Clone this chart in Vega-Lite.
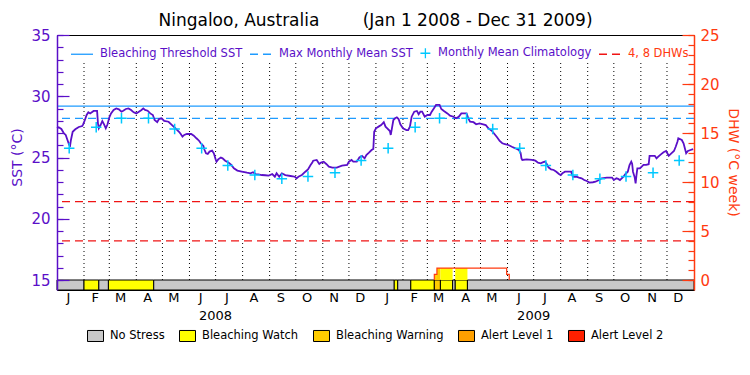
{
"$schema":"https://vega.github.io/schema/vega-lite/v6.json",
"width":637,"height":255,
"autosize":{"type":"none"},
"padding":{"left":57,"top":35,"right":56,"bottom":85},
"background":"white",
"title":{"text":"Ningaloo, Australia\u00a0\u00a0\u00a0\u00a0\u00a0\u00a0\u00a0\u00a0(Jan 1 2008 - Dec 31 2009)","font":"DejaVu Sans","fontSize":17,"fontWeight":"normal","color":"black","offset":-2,"anchor":"middle","frame":"group"},
"config":{"view":{"stroke":"black","strokeWidth":1},"font":"DejaVu Sans","axis":{"grid":false,"labelFont":"DejaVu Sans","titleFont":"DejaVu Sans","titleFontWeight":"normal","labelFlush":false},"legend":{"labelFont":"DejaVu Sans","padding":0}},
"datasets":{
"sst":[
{"date":"2008-01-01","sst":27.38},{"date":"2008-01-03","sst":27.47},{"date":"2008-01-06","sst":27.33},{"date":"2008-01-09","sst":26.97},{"date":"2008-01-11","sst":26.84},{"date":"2008-01-13","sst":26.43},{"date":"2008-01-15","sst":26.02},{"date":"2008-01-16","sst":25.96},{"date":"2008-01-17","sst":26.43},{"date":"2008-01-19","sst":27.10},{"date":"2008-01-22","sst":27.30},{"date":"2008-01-26","sst":27.49},{"date":"2008-01-30","sst":27.57},{"date":"2008-01-31","sst":27.71},
{"date":"2008-02-02","sst":28.06},{"date":"2008-02-04","sst":28.47},{"date":"2008-02-06","sst":28.69},{"date":"2008-02-08","sst":28.60},{"date":"2008-02-10","sst":28.70},{"date":"2008-02-12","sst":28.80},{"date":"2008-02-16","sst":28.80},{"date":"2008-02-17","sst":27.79},{"date":"2008-02-18","sst":27.38},{"date":"2008-02-20","sst":27.65},{"date":"2008-02-22","sst":27.98},{"date":"2008-02-24","sst":27.71},{"date":"2008-02-26","sst":27.38},{"date":"2008-02-28","sst":27.71},
{"date":"2008-03-01","sst":28.27},{"date":"2008-03-03","sst":28.60},{"date":"2008-03-06","sst":28.88},{"date":"2008-03-09","sst":29.01},{"date":"2008-03-12","sst":28.93},{"date":"2008-03-15","sst":28.74},{"date":"2008-03-17","sst":28.82},{"date":"2008-03-20","sst":28.96},{"date":"2008-03-23","sst":29.01},{"date":"2008-03-26","sst":28.88},{"date":"2008-03-29","sst":28.69},
{"date":"2008-04-01","sst":28.60},{"date":"2008-04-04","sst":28.74},{"date":"2008-04-07","sst":28.88},{"date":"2008-04-09","sst":29.01},{"date":"2008-04-11","sst":28.88},{"date":"2008-04-14","sst":28.82},{"date":"2008-04-17","sst":28.60},{"date":"2008-04-20","sst":28.47},{"date":"2008-04-22","sst":28.06},{"date":"2008-04-25","sst":27.88},{"date":"2008-04-27","sst":28.14},{"date":"2008-04-30","sst":28.20},
{"date":"2008-05-03","sst":27.98},{"date":"2008-05-08","sst":27.92},{"date":"2008-05-12","sst":27.65},{"date":"2008-05-16","sst":27.38},{"date":"2008-05-20","sst":27.10},{"date":"2008-05-22","sst":26.92},{"date":"2008-05-24","sst":26.70},{"date":"2008-05-26","sst":26.84},{"date":"2008-05-29","sst":26.92},
{"date":"2008-06-03","sst":26.92},{"date":"2008-06-06","sst":26.78},{"date":"2008-06-09","sst":26.57},{"date":"2008-06-12","sst":26.37},{"date":"2008-06-14","sst":26.16},{"date":"2008-06-17","sst":25.94},{"date":"2008-06-18","sst":25.67},{"date":"2008-06-20","sst":25.34},{"date":"2008-06-22","sst":25.29},{"date":"2008-06-24","sst":25.48},{"date":"2008-06-27","sst":25.56},{"date":"2008-06-29","sst":25.34},
{"date":"2008-07-01","sst":24.85},{"date":"2008-07-02","sst":24.66},{"date":"2008-07-04","sst":24.85},{"date":"2008-07-07","sst":25.00},{"date":"2008-07-09","sst":24.93},{"date":"2008-07-12","sst":24.74},{"date":"2008-07-16","sst":24.58},{"date":"2008-07-19","sst":24.39},{"date":"2008-07-22","sst":24.12},{"date":"2008-07-26","sst":23.93},{"date":"2008-07-31","sst":23.85},
{"date":"2008-08-06","sst":23.76},{"date":"2008-08-10","sst":23.71},{"date":"2008-08-13","sst":23.80},{"date":"2008-08-16","sst":23.65},{"date":"2008-08-19","sst":23.63},{"date":"2008-08-23","sst":23.57},{"date":"2008-08-27","sst":23.55},{"date":"2008-08-31","sst":23.52},
{"date":"2008-09-04","sst":23.65},{"date":"2008-09-07","sst":23.43},{"date":"2008-09-09","sst":23.71},{"date":"2008-09-12","sst":23.43},{"date":"2008-09-15","sst":23.71},{"date":"2008-09-19","sst":23.57},{"date":"2008-09-25","sst":23.49},{"date":"2008-09-30","sst":23.43},
{"date":"2008-10-02","sst":23.30},{"date":"2008-10-04","sst":23.43},{"date":"2008-10-08","sst":23.57},{"date":"2008-10-12","sst":23.84},{"date":"2008-10-15","sst":24.03},{"date":"2008-10-18","sst":24.39},{"date":"2008-10-20","sst":24.58},{"date":"2008-10-21","sst":24.74},{"date":"2008-10-25","sst":24.80},{"date":"2008-10-28","sst":24.47},{"date":"2008-10-30","sst":24.58},
{"date":"2008-11-02","sst":24.66},{"date":"2008-11-05","sst":24.47},{"date":"2008-11-08","sst":24.25},{"date":"2008-11-12","sst":24.17},{"date":"2008-11-17","sst":24.17},{"date":"2008-11-23","sst":24.34},{"date":"2008-11-29","sst":24.39},
{"date":"2008-12-01","sst":24.66},{"date":"2008-12-04","sst":24.80},{"date":"2008-12-06","sst":24.66},{"date":"2008-12-10","sst":24.66},{"date":"2008-12-13","sst":25.00},{"date":"2008-12-16","sst":25.14},{"date":"2008-12-19","sst":24.93},{"date":"2008-12-21","sst":25.20},{"date":"2008-12-24","sst":25.39},{"date":"2008-12-27","sst":25.61},{"date":"2008-12-29","sst":25.70},{"date":"2008-12-30","sst":27.10},
{"date":"2009-01-01","sst":27.38},{"date":"2009-01-04","sst":27.52},{"date":"2009-01-07","sst":27.65},{"date":"2009-01-10","sst":27.88},{"date":"2009-01-12","sst":27.52},{"date":"2009-01-14","sst":27.38},{"date":"2009-01-17","sst":27.16},{"date":"2009-01-18","sst":26.84},{"date":"2009-01-19","sst":27.24},{"date":"2009-01-21","sst":28.06},{"date":"2009-01-23","sst":28.20},{"date":"2009-01-25","sst":28.28},{"date":"2009-01-27","sst":28.14},{"date":"2009-01-29","sst":27.71},
{"date":"2009-02-01","sst":27.38},{"date":"2009-02-05","sst":27.24},{"date":"2009-02-07","sst":27.24},{"date":"2009-02-09","sst":27.52},{"date":"2009-02-11","sst":28.33},{"date":"2009-02-14","sst":28.74},{"date":"2009-02-17","sst":28.80},{"date":"2009-02-19","sst":28.53},{"date":"2009-02-21","sst":28.74},{"date":"2009-02-23","sst":28.74},{"date":"2009-02-26","sst":28.33},
{"date":"2009-03-01","sst":28.47},{"date":"2009-03-04","sst":28.47},{"date":"2009-03-06","sst":28.74},{"date":"2009-03-09","sst":29.07},{"date":"2009-03-11","sst":29.29},{"date":"2009-03-15","sst":29.29},{"date":"2009-03-17","sst":28.96},{"date":"2009-03-20","sst":28.80},{"date":"2009-03-24","sst":28.60},{"date":"2009-03-27","sst":28.41},{"date":"2009-03-31","sst":28.33},
{"date":"2009-04-03","sst":28.20},{"date":"2009-04-06","sst":28.33},{"date":"2009-04-09","sst":28.60},{"date":"2009-04-15","sst":28.60},{"date":"2009-04-17","sst":28.20},{"date":"2009-04-19","sst":27.92},{"date":"2009-04-23","sst":27.88},{"date":"2009-04-26","sst":27.71},{"date":"2009-04-30","sst":27.79},
{"date":"2009-05-03","sst":27.73},{"date":"2009-05-07","sst":27.65},{"date":"2009-05-10","sst":27.38},{"date":"2009-05-14","sst":27.18},{"date":"2009-05-17","sst":26.92},{"date":"2009-05-20","sst":26.65},{"date":"2009-05-23","sst":26.35},{"date":"2009-05-26","sst":26.16},{"date":"2009-05-29","sst":26.10},
{"date":"2009-06-02","sst":26.02},{"date":"2009-06-06","sst":25.88},{"date":"2009-06-10","sst":25.75},{"date":"2009-06-14","sst":25.61},{"date":"2009-06-16","sst":25.39},{"date":"2009-06-17","sst":24.93},{"date":"2009-06-18","sst":24.80},{"date":"2009-06-23","sst":24.85},{"date":"2009-06-29","sst":24.80},
{"date":"2009-07-03","sst":24.74},{"date":"2009-07-06","sst":24.58},{"date":"2009-07-09","sst":24.53},{"date":"2009-07-12","sst":24.62},{"date":"2009-07-14","sst":24.67},{"date":"2009-07-16","sst":24.47},{"date":"2009-07-18","sst":24.20},{"date":"2009-07-21","sst":24.03},{"date":"2009-07-24","sst":23.98},{"date":"2009-07-27","sst":23.84},{"date":"2009-07-30","sst":23.65},
{"date":"2009-08-01","sst":23.57},{"date":"2009-08-03","sst":23.71},{"date":"2009-08-06","sst":23.84},{"date":"2009-08-13","sst":23.84},{"date":"2009-08-15","sst":23.43},{"date":"2009-08-19","sst":23.43},{"date":"2009-08-22","sst":23.36},{"date":"2009-08-25","sst":23.30},{"date":"2009-08-28","sst":23.16},{"date":"2009-08-31","sst":23.08},
{"date":"2009-09-03","sst":22.95},{"date":"2009-09-07","sst":22.98},{"date":"2009-09-10","sst":23.02},{"date":"2009-09-14","sst":23.16},{"date":"2009-09-17","sst":23.30},{"date":"2009-09-23","sst":23.36},{"date":"2009-09-29","sst":23.36},
{"date":"2009-10-01","sst":23.16},{"date":"2009-10-04","sst":23.30},{"date":"2009-10-06","sst":23.25},{"date":"2009-10-08","sst":23.16},{"date":"2009-10-12","sst":23.43},{"date":"2009-10-14","sst":23.63},{"date":"2009-10-17","sst":23.84},{"date":"2009-10-19","sst":24.39},{"date":"2009-10-21","sst":24.66},{"date":"2009-10-22","sst":24.50},{"date":"2009-10-23","sst":23.84},{"date":"2009-10-25","sst":23.36},{"date":"2009-10-26","sst":22.89},{"date":"2009-10-27","sst":23.57},{"date":"2009-10-28","sst":24.12},{"date":"2009-10-31","sst":24.12},
{"date":"2009-11-02","sst":24.25},{"date":"2009-11-04","sst":24.39},{"date":"2009-11-07","sst":24.39},{"date":"2009-11-10","sst":24.45},{"date":"2009-11-11","sst":25.14},{"date":"2009-11-17","sst":25.14},{"date":"2009-11-19","sst":24.93},{"date":"2009-11-21","sst":25.07},{"date":"2009-11-24","sst":25.26},{"date":"2009-11-27","sst":25.43},{"date":"2009-11-30","sst":25.53},
{"date":"2009-12-03","sst":25.14},{"date":"2009-12-06","sst":25.34},{"date":"2009-12-09","sst":25.53},{"date":"2009-12-11","sst":25.88},{"date":"2009-12-13","sst":26.29},{"date":"2009-12-14","sst":26.57},{"date":"2009-12-18","sst":26.43},{"date":"2009-12-20","sst":26.16},{"date":"2009-12-23","sst":25.34},{"date":"2009-12-25","sst":25.53},{"date":"2009-12-28","sst":25.61},{"date":"2009-12-31","sst":25.69}
],
"clim":[
{"date":"2008-01-15","sst":25.75,"series":"Monthly Mean Climatology"},{"date":"2008-02-15","sst":27.47,"series":"Monthly Mean Climatology"},{"date":"2008-03-15","sst":28.2,"series":"Monthly Mean Climatology"},{"date":"2008-04-15","sst":28.2,"series":"Monthly Mean Climatology"},{"date":"2008-05-15","sst":27.33,"series":"Monthly Mean Climatology"},{"date":"2008-06-15","sst":25.75,"series":"Monthly Mean Climatology"},{"date":"2008-07-15","sst":24.35,"series":"Monthly Mean Climatology"},{"date":"2008-08-15","sst":23.57,"series":"Monthly Mean Climatology"},{"date":"2008-09-15","sst":23.27,"series":"Monthly Mean Climatology"},{"date":"2008-10-15","sst":23.45,"series":"Monthly Mean Climatology"},{"date":"2008-11-15","sst":23.76,"series":"Monthly Mean Climatology"},{"date":"2008-12-15","sst":24.75,"series":"Monthly Mean Climatology"},
{"date":"2009-01-15","sst":25.75,"series":"Monthly Mean Climatology"},{"date":"2009-02-15","sst":27.47,"series":"Monthly Mean Climatology"},{"date":"2009-03-15","sst":28.2,"series":"Monthly Mean Climatology"},{"date":"2009-04-15","sst":28.2,"series":"Monthly Mean Climatology"},{"date":"2009-05-15","sst":27.33,"series":"Monthly Mean Climatology"},{"date":"2009-06-15","sst":25.75,"series":"Monthly Mean Climatology"},{"date":"2009-07-15","sst":24.35,"series":"Monthly Mean Climatology"},{"date":"2009-08-15","sst":23.57,"series":"Monthly Mean Climatology"},{"date":"2009-09-15","sst":23.27,"series":"Monthly Mean Climatology"},{"date":"2009-10-15","sst":23.45,"series":"Monthly Mean Climatology"},{"date":"2009-11-15","sst":23.76,"series":"Monthly Mean Climatology"},{"date":"2009-12-15","sst":24.75,"series":"Monthly Mean Climatology"}
],
"stress":[
{"start":"2008-01-01","end":"2008-02-01","stress":"No Stress"},
{"start":"2008-02-01","end":"2008-02-18","stress":"Bleaching Watch"},
{"start":"2008-02-18","end":"2008-02-29","stress":"No Stress"},
{"start":"2008-02-29","end":"2008-04-21","stress":"Bleaching Watch"},
{"start":"2008-04-21","end":"2009-01-22","stress":"No Stress"},
{"start":"2009-01-22","end":"2009-01-26","stress":"Bleaching Watch"},
{"start":"2009-01-26","end":"2009-02-10","stress":"No Stress"},
{"start":"2009-02-10","end":"2009-03-09","stress":"Bleaching Watch"},
{"start":"2009-03-09","end":"2009-03-16","stress":"Bleaching Warning"},
{"start":"2009-03-16","end":"2009-03-30","stress":"Bleaching Watch"},
{"start":"2009-03-30","end":"2009-04-02","stress":"No Stress"},
{"start":"2009-04-02","end":"2009-04-16","stress":"Bleaching Watch"},
{"start":"2009-04-16","end":"2010-01-01","stress":"No Stress"}
],
"dhwfill":[
{"start":"2009-03-09","end":"2009-03-12","dhw":0.58,"stress":"Bleaching Warning"},
{"start":"2009-03-12","end":"2009-03-16","dhw":1.22,"stress":"Bleaching Warning"},
{"start":"2009-03-16","end":"2009-03-30","dhw":1.22,"stress":"Bleaching Watch"},
{"start":"2009-04-02","end":"2009-04-16","dhw":1.22,"stress":"Bleaching Watch"}
],
"dhwline":[
{"date":"2009-03-09","dhw":0},{"date":"2009-03-09","dhw":0.58},{"date":"2009-03-12","dhw":1.22},{"date":"2009-05-31","dhw":0.58},{"date":"2009-06-03","dhw":0}
],
"months":[
{"date":"2008-02-01"},{"date":"2008-03-01"},{"date":"2008-04-01"},{"date":"2008-05-01"},{"date":"2008-06-01"},{"date":"2008-07-01"},{"date":"2008-08-01"},{"date":"2008-09-01"},{"date":"2008-10-01"},{"date":"2008-11-01"},{"date":"2008-12-01"},{"date":"2009-01-01"},{"date":"2009-02-01"},{"date":"2009-03-01"},{"date":"2009-04-01"},{"date":"2009-05-01"},{"date":"2009-06-01"},{"date":"2009-07-01"},{"date":"2009-08-01"},{"date":"2009-09-01"},{"date":"2009-10-01"},{"date":"2009-11-01"},{"date":"2009-12-01"}
],
"mlabels":[
{"date":"2008-01-14","label":"J"},{"date":"2008-02-14","label":"F"},{"date":"2008-03-14","label":"M"},{"date":"2008-04-14","label":"A"},{"date":"2008-05-14","label":"M"},{"date":"2008-06-14","label":"J"},{"date":"2008-07-14","label":"J"},{"date":"2008-08-14","label":"A"},{"date":"2008-09-14","label":"S"},{"date":"2008-10-14","label":"O"},{"date":"2008-11-14","label":"N"},{"date":"2008-12-14","label":"D"},
{"date":"2009-01-14","label":"J"},{"date":"2009-02-14","label":"F"},{"date":"2009-03-14","label":"M"},{"date":"2009-04-14","label":"A"},{"date":"2009-05-14","label":"M"},{"date":"2009-06-14","label":"J"},{"date":"2009-07-14","label":"J"},{"date":"2009-08-14","label":"A"},{"date":"2009-09-14","label":"S"},{"date":"2009-10-14","label":"O"},{"date":"2009-11-14","label":"N"},{"date":"2009-12-14","label":"D"}
],
"ylabels":[{"date":"2008-07-01","label":"2008"},{"date":"2009-07-01","label":"2009"}],
"threshold":[{"series":"Bleaching Threshold SST","sst":29.2}],
"mmm":[{"series":"Max Monthly Mean SST","sst":28.2}],
"dhwref":[{"series":"4, 8 DHWs","dhw":4},{"series":"4, 8 DHWs","dhw":8}]
},
"layer":[
{
"layer":[
{"data":{"name":"stress"},
 "mark":{"type":"rect","stroke":"black","strokeWidth":1},
 "encoding":{
  "x":{"field":"start","type":"temporal","axis":null,"scale":{"type":"utc","domain":[{"year":2008,"month":1,"date":1,"utc":true},{"year":2010,"month":1,"date":1,"utc":true}]}},
  "x2":{"field":"end"},
  "y":{"datum":14.1837,"type":"quantitative","scale":{"domain":[14.1837,35],"nice":false,"zero":false},
       "axis":{"orient":"left","values":[15,16,17,18,19,20,21,22,23,24,25,26,27,28,29,30,31,32,33,34,35],"labels":false,"domain":false,"ticks":true,"tickSize":6,"offset":-6,"tickColor":"#5a0fc8","tickWidth":1.2,"title":null,"zindex":1}},
  "y2":{"datum":15},
  "fill":{"field":"stress","type":"nominal",
   "scale":{"domain":["No Stress","Bleaching Watch","Bleaching Warning","Alert Level 1","Alert Level 2"],"range":["#c8c8c8","#ffff00","#ffcc00","#ffa000","#ff2000"]},
   "legend":{"orient":"none","legendX":30,"legendY":292,"direction":"horizontal","title":null,"labelFont":"DejaVu Sans","labelFontSize":11.5,"labelColor":"black","labelOffset":6,"columnPadding":12,"symbolType":"M-1,-0.69H1V0.69H-1Z","symbolSize":256,"symbolStrokeColor":"black","symbolStrokeWidth":1,
     "encode":{"symbols":{"update":{"stroke":{"value":"black"},"strokeWidth":{"value":1},"opacity":{"value":1}}}}}}
 }},
{"data":{"name":"months"},
 "mark":{"type":"rule","stroke":"black","strokeDash":[1,3],"strokeWidth":1},
 "encoding":{
  "x":{"field":"date","type":"temporal","axis":null},
  "y":{"datum":15,"type":"quantitative",
       "axis":{"orient":"left","values":[15,20,25,30,35],"labels":false,"domain":false,"ticks":true,"tickSize":12,"offset":-12,"tickColor":"#5a0fc8","tickWidth":1.2,"title":null,"zindex":1}},
  "y2":{"datum":32.75}
 }},
{"data":{"name":"threshold"},
 "mark":{"type":"rule","strokeWidth":1.2},
 "encoding":{
  "y":{"field":"sst","type":"quantitative",
       "axis":{"orient":"left","values":[15,20,25,30,35],"ticks":false,"tickSize":0,"domain":true,"domainColor":"#5a0fc8","domainWidth":1.5,"labelColor":"#5a0fc8","labelFontSize":15,"labelPadding":7,"labelFlush":false,
               "title":"SST (°C)","titleColor":"#5a0fc8","titleFontSize":14,"titleFontWeight":"normal","titleAngle":-90,"titleX":-40,"titleY":122,"titleAlign":"center","titleBaseline":"middle","zindex":1}},
  "stroke":{"field":"series","type":"nominal",
   "scale":{"domain":["Bleaching Threshold SST","Max Monthly Mean SST","Monthly Mean Climatology","4, 8 DHWs"],"range":["#1e9bff","#1e9bff","#00c8ff","#f01414"]},
   "legend":{"orient":"none","legendX":13,"legendY":6,"direction":"horizontal","title":null,"labelFont":"DejaVu Sans","labelFontSize":11.5,"labelColor":"#5a0fc8","labelOffset":6,"columnPadding":4,"symbolSize":484,"symbolStrokeWidth":1.3,"symbolType":"M-1,0H1",
    "encode":{
     "symbols":{"update":{
       "shape":{"signal":"datum.value === 'Monthly Mean Climatology' ? 'M-1.05,0H-0.15M-0.6,-0.45V0.45' : 'M-1,0H1'"},
       "strokeDash":{"signal":"datum.value === 'Max Monthly Mean SST' || datum.value === '4, 8 DHWs' ? [8,5] : []"},
       "strokeWidth":{"value":1.3},"opacity":{"value":1}}},
     "labels":{"update":{
       "fill":{"signal":"datum.value === '4, 8 DHWs' ? '#ff3a10' : '#5a0fc8'"},
       "dx":{"signal":"datum.value === 'Monthly Mean Climatology' ? -12 : 0"}}}}}}
 }},
{"data":{"name":"mmm"},
 "mark":{"type":"rule","strokeWidth":1.2,"strokeDash":[8,5]},
 "encoding":{
  "y":{"field":"sst","type":"quantitative","axis":null},
  "stroke":{"field":"series","type":"nominal"}
 }},
{"data":{"name":"sst"},
 "mark":{"type":"line","stroke":"#5a0fc8","strokeWidth":1.8},
 "encoding":{
  "x":{"field":"date","type":"temporal","axis":null},
  "y":{"field":"sst","type":"quantitative","axis":null}
 }},
{"data":{"name":"clim"},
 "mark":{"type":"point","shape":"M-1,0H1M0,-1V1","size":110,"strokeWidth":1.5,"filled":false,"opacity":1},
 "encoding":{
  "x":{"field":"date","type":"temporal","axis":null},
  "y":{"field":"sst","type":"quantitative","axis":null},
  "stroke":{"field":"series","type":"nominal"}
 }},
{"data":{"name":"mlabels"},
 "mark":{"type":"text","font":"DejaVu Sans","fontSize":13,"color":"black","align":"center","baseline":"middle","clip":false},
 "encoding":{
  "x":{"field":"date","type":"temporal","axis":null},
  "y":{"datum":13.49,"type":"quantitative","axis":null},
  "text":{"field":"label"}
 }},
{"data":{"name":"ylabels"},
 "mark":{"type":"text","font":"DejaVu Sans","fontSize":13,"color":"black","align":"center","baseline":"middle","clip":false},
 "encoding":{
  "x":{"field":"date","type":"temporal","axis":null},
  "y":{"datum":12.06,"type":"quantitative","axis":null},
  "text":{"field":"label"}
 }}
],
"resolve":{"axis":{"y":"independent"}}
},
{
"layer":[
{"data":{"name":"dhwref"},
 "mark":{"type":"rule","strokeDash":[8,5],"strokeWidth":1.2},
 "encoding":{
  "y":{"field":"dhw","type":"quantitative","scale":{"domain":[-1.0204,25],"nice":false,"zero":false},
       "axis":{"orient":"right","values":[0,1,2,3,4,5,6,7,8,9,10,11,12,13,14,15,16,17,18,19,20,21,22,23,24,25],"labels":false,"domain":false,"ticks":true,"tickSize":6,"offset":-6,"tickColor":"#ff3a10","tickWidth":1.2,"title":null,"zindex":1}},
  "stroke":{"field":"series","type":"nominal"}
 }},
{"data":{"name":"dhwfill"},
 "mark":{"type":"rect"},
 "encoding":{
  "x":{"field":"start","type":"temporal","axis":null},
  "x2":{"field":"end"},
  "y":{"field":"dhw","type":"quantitative",
       "axis":{"orient":"right","values":[0,5,10,15,20,25],"labels":false,"domain":false,"ticks":true,"tickSize":12,"offset":-12,"tickColor":"#ff3a10","tickWidth":1.2,"title":null,"zindex":1}},
  "y2":{"datum":0},
  "fill":{"field":"stress","type":"nominal"}
 }},
{"data":{"name":"dhwline"},
 "mark":{"type":"line","interpolate":"step-after","stroke":"#ff3a10","strokeWidth":1.2},
 "encoding":{
  "x":{"field":"date","type":"temporal","axis":null},
  "y":{"field":"dhw","type":"quantitative",
       "axis":{"orient":"right","values":[0,5,10,15,20,25],"ticks":false,"tickSize":0,"domain":true,"domainColor":"#ff3a10","domainWidth":1.5,"labelColor":"#ff3a10","labelFontSize":15,"labelPadding":6,"labelFlush":false,
               "title":"DHW (°C week)","titleColor":"#ff3a10","titleFontSize":14,"titleFontWeight":"normal","titleAngle":90,"titleX":38,"titleY":127,"titleAlign":"center","titleBaseline":"middle","zindex":1}}
 }}
],
"resolve":{"axis":{"y":"independent"}}
}
],
"resolve":{"scale":{"y":"independent"}}
}
